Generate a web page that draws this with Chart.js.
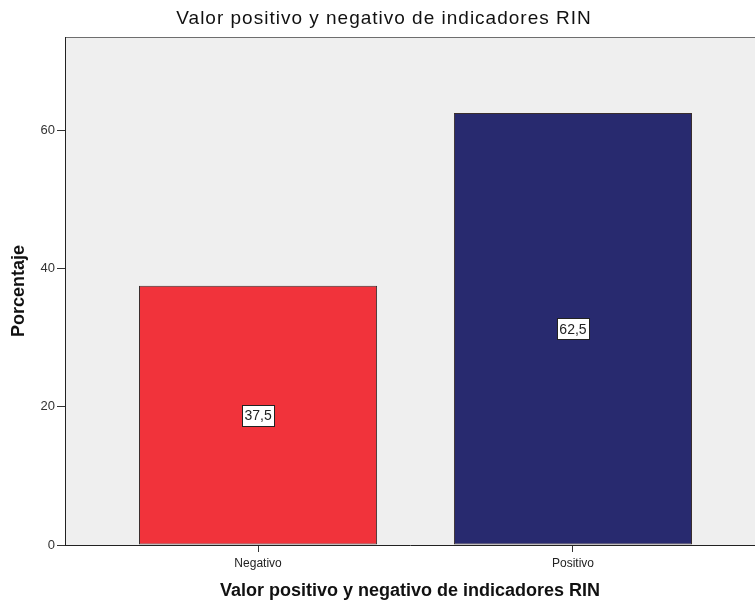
<!DOCTYPE html>
<html>
<head>
<meta charset="utf-8">
<script src="https://cdn.jsdelivr.net/npm/chart.js@4/dist/chart.umd.min.js"></script>
<style>
  html, body { margin: 0; padding: 0; background: #ffffff; }
  #wrap { width: 755px; height: 602px; }
</style>
</head>
<body>
<div id="wrap"><canvas id="c" width="755" height="602"></canvas></div>
<script>
const chartTitle = 'Valor positivo y negativo de indicadores RIN';
const xAxisTitle = 'Valor positivo y negativo de indicadores RIN';
const yAxisTitle = 'Porcentaje';
const categories = ['Negativo', 'Positivo'];
const categoryPositions = [0, 1];
const percentages = [37.5, 62.5];
const valueLabels = ['37,5', '62,5'];
const yTicks = [0, 20, 40, 60];
const barColors = ['#f1333b', '#282a6f'];

const FONT = '"Liberation Sans", Arial, sans-serif';

const plotBackground = {
  id: 'plotBackground',
  beforeDraw(chart) {
    const { ctx, chartArea: a } = chart;
    ctx.save();
    ctx.fillStyle = '#efefef';
    ctx.fillRect(a.left, a.top, a.right - a.left, a.bottom - a.top);
    ctx.strokeStyle = '#6e6e6e';
    ctx.lineWidth = 1;
    ctx.beginPath();
    ctx.moveTo(a.left, a.top + 0.5);
    ctx.lineTo(a.right, a.top + 0.5);
    ctx.stroke();
    ctx.restore();
  }
};

const mainTitle = {
  id: 'mainTitle',
  afterDraw(chart) {
    const { ctx } = chart;
    ctx.save();
    ctx.font = '19px ' + FONT;
    ctx.fillStyle = '#111';
    ctx.textAlign = 'center';
    ctx.textBaseline = 'middle';
    if ('letterSpacing' in ctx) ctx.letterSpacing = '1px';
    ctx.fillText(chartTitle, 384, 19);
    ctx.restore();
  }
};

const valueBoxes = {
  id: 'valueBoxes',
  afterDatasetsDraw(chart) {
    const { ctx } = chart;
    const meta = chart.getDatasetMeta(0);
    ctx.save();
    ctx.font = '14px ' + FONT;
    ctx.textAlign = 'center';
    ctx.textBaseline = 'middle';
    meta.data.forEach((bar, i) => {
      const cx = bar.x;
      const cy = (bar.y + bar.base) / 2;
      const text = valueLabels[i];
      const w = Math.round(ctx.measureText(text).width + 5);
      const h = 21;
      const x0 = Math.round(cx - w / 2) + 0.5;
      const y0 = Math.round(cy - h / 2) + 0.5;
      ctx.fillStyle = '#ffffff';
      ctx.fillRect(x0, y0, w, h);
      ctx.strokeStyle = '#222';
      ctx.lineWidth = 1;
      ctx.strokeRect(x0, y0, w, h);
      ctx.fillStyle = '#222';
      ctx.fillText(text, cx, cy + 1);
    });
    ctx.restore();
  }
};

new Chart(document.getElementById('c'), {
  type: 'bar',
  data: {
    datasets: [{
      data: categoryPositions.map((x, i) => ({ x: x, y: percentages[i] })),
      backgroundColor: barColors,
      borderColor: '#3a2e2e',
      borderWidth: 1,
      borderSkipped: false,
      barPercentage: 0.756,
      categoryPercentage: 1
    }]
  },
  options: {
    responsive: false,
    animation: false,
    layout: { padding: { top: 37, left: 0, right: 0, bottom: 0 } },
    plugins: {
      legend: { display: false },
      title: { display: false },
      tooltip: { enabled: false }
    },
    scales: {
      x: {
        type: 'linear',
        offset: false,
        min: -0.613,
        max: 1.578,
        afterBuildTicks: s => { s.ticks = categoryPositions.map(v => ({ value: v })); },
        afterFit: s => { s.height = 57; },
        grid: { offset: false, drawOnChartArea: false, drawTicks: true, tickLength: 7, color: '#333' },
        border: { display: true, color: '#222', width: 1 },
        ticks: {
          callback: v => categories[categoryPositions.indexOf(v)] ?? '',
          color: '#222',
          font: { family: FONT, size: 12 },
          padding: 4,
          maxRotation: 0,
          autoSkip: false
        },
        title: {
          display: true,
          text: xAxisTitle,
          color: '#111',
          font: { family: FONT, size: 18, weight: 'bold' },
          padding: { top: 0, bottom: 0 }
        }
      },
      y: {
        min: 0,
        max: 73.5,
        afterBuildTicks: s => { s.ticks = yTicks.map(v => ({ value: v })); },
        afterFit: s => { s.width = 65; },
        grid: { drawOnChartArea: false, drawTicks: true, tickLength: 8, color: '#333' },
        border: { display: true, color: '#222', width: 1 },
        ticks: {
          color: '#333',
          font: { family: FONT, size: 13 },
          padding: 2
        },
        title: {
          display: true,
          text: yAxisTitle,
          color: '#111',
          font: { family: FONT, size: 18, weight: 'bold' },
          padding: { top: 8, bottom: 0 }
        }
      }
    }
  },
  plugins: [plotBackground, mainTitle, valueBoxes]
});
</script>
</body>
</html>
